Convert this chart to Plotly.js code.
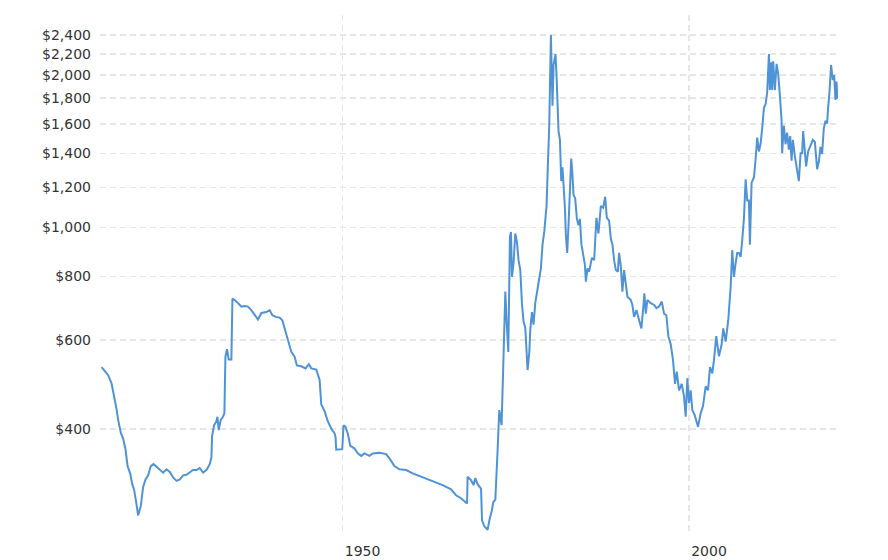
<!DOCTYPE html>
<html>
<head>
<meta charset="utf-8">
<script src="https://cdn.plot.ly/plotly-3.0.1.min.js"></script>
<style>
  html, body { margin: 0; padding: 0; background: #fff; }
  #chart { width: 888px; height: 560px; }
</style>
</head>
<body>
<div id="chart"></div>
<script>
// Gold price, inflation-adjusted (USD per ounce)
const years = [
  1915.23,1915.71,1916.18,1916.67,1917.05,1917.39,1917.62,1918.01,1918.34,1918.69,
  1918.98,1919.16,1919.35,1919.64,1919.93,1920.22,1920.50,1920.89,1921.22,1921.57,
  1921.95,1922.33,1922.72,1923.16,1923.63,1924.11,1924.60,1925.07,1925.55,1926.04,
  1926.51,1926.99,1927.48,1927.95,1928.43,1928.92,1929.39,1929.87,1930.36,1930.84,
  1931.08,1931.17,1931.46,1931.80,1931.95,1932.13,1932.42,1932.75,1932.95,1933.10,
  1933.33,1933.57,1933.96,1934.11,1934.44,1934.91,1935.40,1935.88,1936.35,1936.84,
  1937.32,1937.80,1938.29,1939.01,1939.48,1939.87,1940.35,1940.92,1941.31,1941.64,
  1942.12,1942.61,1943.08,1943.41,1944.05,1944.67,1945.14,1945.49,1946.21,1946.69,
  1946.93,1947.41,1947.88,1948.37,1948.85,1948.99,1949.09,1949.67,1949.96,1950.14,
  1950.43,1950.76,1951.11,1951.73,1952.20,1952.69,1953.17,1953.89,1954.37,1955.33,
  1956.30,1956.77,1957.49,1958.21,1959.18,1960.13,1961.57,1963.01,1964.45,1965.66,
  1966.38,1967.10,1967.97,1968.05,1968.54,1968.92,1969.16,1969.50,1969.99,1970.13,
  1970.46,1970.94,1971.18,1971.57,1971.76,1972.05,1972.23,1972.38,1972.62,1972.95,
  1973.20,1973.49,1973.67,1973.92,1974.16,1974.31,1974.45,1974.68,1974.93,1975.17,
  1975.40,1975.65,1975.89,1976.12,1976.37,1976.56,1976.70,1976.95,1977.09,1977.33,
  1977.56,1977.81,1978.14,1978.39,1978.63,1978.86,1979.11,1979.44,1979.64,1979.83,
  1980.07,1980.30,1980.45,1980.59,1980.73,1980.88,1981.02,1981.17,1981.37,1981.56,
  1981.74,1981.95,1982.09,1982.23,1982.42,1982.61,1982.81,1983.00,1983.14,1983.33,
  1983.57,1983.82,1984.05,1984.25,1984.48,1984.73,1984.97,1985.12,1985.35,1985.59,
  1985.98,1986.31,1986.64,1986.93,1987.28,1987.61,1987.90,1988.14,1988.47,1988.72,
  1988.95,1989.19,1989.44,1989.73,1989.91,1990.16,1990.39,1990.63,1990.88,1991.11,
  1991.60,1991.83,1992.07,1992.41,1992.80,1993.13,1993.41,1993.56,1993.76,1993.99,
  1994.48,1994.96,1995.29,1995.68,1996.07,1996.40,1996.73,1997.02,1997.36,1997.69,
  1997.98,1998.23,1998.56,1998.95,1999.28,1999.52,1999.76,2000.00,2000.24,2000.48,
  2000.82,2001.30,2001.69,2002.02,2002.41,2002.74,2003.03,2003.36,2003.60,2003.93,
  2004.32,2004.71,2004.94,2005.29,2005.66,2006.01,2006.24,2006.48,2006.73,2006.96,
  2007.20,2007.45,2007.68,2007.93,2008.17,2008.40,2008.65,2008.79,2009.03,2009.37,
  2009.61,2009.84,2010.09,2010.33,2010.56,2010.81,2011.05,2011.28,2011.53,2011.67,
  2011.86,2012.00,2012.15,2012.39,2012.64,2012.87,2013.11,2013.36,2013.44,2013.69,
  2013.93,2014.16,2014.41,2014.60,2014.80,2014.99,2015.27,2015.61,2015.85,2016.10,
  2016.33,2016.47,2016.71,2016.90,2017.19,2017.54,2017.87,2018.16,2018.49,2018.73,
  2018.98,2019.21,2019.45,2019.70,2019.93,2020.07,2020.27,2020.50,2020.75,2020.94,
  2021.14,2021.28,2021.43
];
const prices = [
  530,521,511,492,464,438,417,393,383,364,
  338,333,327,312,303,287,270,282,307,318,
  324,338,341,337,332,328,333,329,321,316,
  318,324,325,329,332,332,335,328,332,341,
  352,387,407,414,423,398,417,423,430,556,
  575,549,549,724,719,709,698,700,698,687,
  671,658,678,681,687,671,666,664,656,632,
  595,568,556,534,532,527,537,527,524,500,
  447,434,414,401,392,386,364,365,365,407,
  404,392,371,366,358,354,358,354,358,359,
  357,350,338,333,332,327,321,316,310,304,
  296,292,285,322,317,310,320,311,305,264,
  257,253,264,277,287,290,321,364,436,407,
  536,747,656,568,958,980,799,850,973,937,
  862,824,709,651,635,573,523,566,627,681,
  643,709,764,794,830,925,980,1103,1340,1590,
  2400,1740,2094,2165,2200,2000,1795,1550,1490,1235,
  1315,1205,1094,965,891,1010,1226,1368,1297,1160,
  1142,1040,1010,1040,925,882,845,782,830,818,
  871,862,1045,973,1103,1094,1150,1045,1032,950,
  925,862,824,818,891,838,747,824,775,730,
  719,703,666,687,656,632,698,741,676,719,
  709,703,693,698,714,676,671,610,588,547,
  491,519,477,491,464,423,504,450,477,436,
  426,404,430,444,486,477,530,515,547,610,
  557,588,632,595,656,764,902,799,850,891,
  891,875,944,1045,1245,1130,1130,925,1226,1255,
  1364,1505,1413,1465,1570,1723,1752,1849,2200,1868,
  2120,1868,2130,1868,2105,2010,1825,1625,1402,1590,
  1460,1540,1425,1515,1355,1490,1385,1278,1235,1402,
  1402,1550,1442,1320,1413,1460,1490,1475,1303,1348,
  1442,1397,1570,1625,1605,1723,1849,2094,1955,2000,
  1785,1941,1795
];
const yTickValues = [400, 600, 800, 1000, 1200, 1400, 1600, 1800, 2000, 2200, 2400];
const yTickLabels = ['$400', '$600', '$800', '$1,000', '$1,200', '$1,400', '$1,600', '$1,800', '$2,000', '$2,200', '$2,400'];
const xTickValues = [1950, 2000];
const xTickLabels = ['1950', '2000'];

const trace = {
  x: years,
  y: prices,
  type: 'scatter',
  mode: 'lines',
  line: { color: '#4f93d6', width: 2 },
  hoverinfo: 'skip'
};

const layout = {
  width: 888,
  height: 560,
  margin: { l: 100, r: 50, t: 15, b: 25 },
  paper_bgcolor: '#ffffff',
  plot_bgcolor: '#ffffff',
  showlegend: false,
  font: { family: 'DejaVu Sans, Verdana, sans-serif', size: 14, color: '#333333' },
  xaxis: {
    type: 'linear',
    range: [1915.0, 2021.5],
    tickmode: 'array',
    tickvals: xTickValues,
    ticktext: xTickLabels,
    showgrid: true,
    gridcolor: '#e6e6e6',
    gridwidth: 1.5,
    griddash: '6px,4px',
    zeroline: false,
    showline: false,
    ticks: '',
    ticklabelshift: 20,
    ticklabelstandoff: 6
  },
  yaxis: {
    type: 'log',
    range: [2.3928, 3.4196],
    tickmode: 'array',
    tickvals: yTickValues,
    ticktext: yTickLabels,
    showgrid: true,
    gridcolor: '#e6e6e6',
    gridwidth: 1.5,
    griddash: '6px,4px',
    zeroline: false,
    showline: false,
    ticks: '',
    ticklabelstandoff: 8
  }
};

Plotly.newPlot('chart', [trace], layout, { displayModeBar: false, staticPlot: true });
</script>
</body>
</html>
